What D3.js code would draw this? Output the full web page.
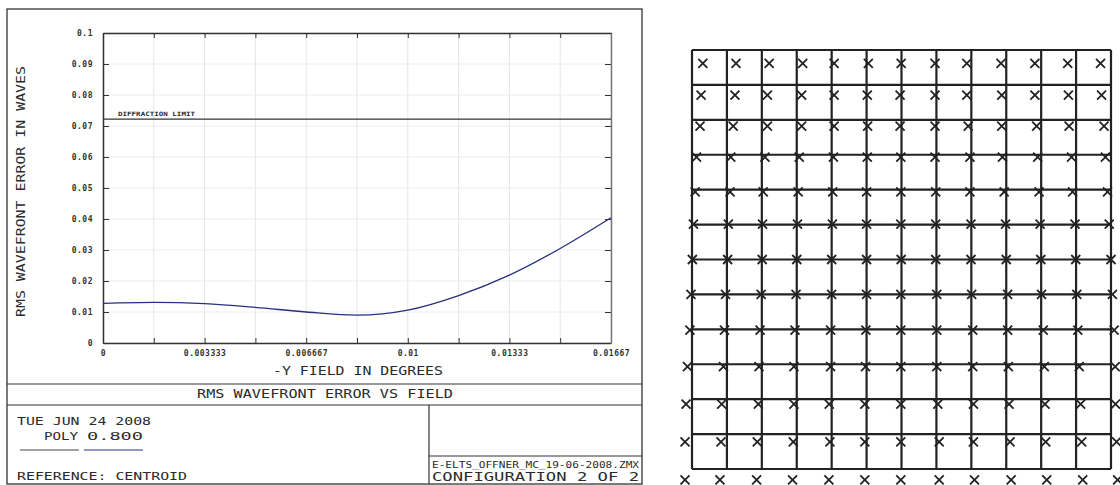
<!DOCTYPE html>
<html>
<head>
<meta charset="utf-8">
<script src="https://cdn.jsdelivr.net/npm/d3@7"></script>
<style>
	body { margin: 0; background: #fff; }
	svg { display: block; }
	text { font-family: 'DejaVu Sans Mono', monospace; fill: #2a2a2a; }
</style>
</head>
<body>
<div id="viz"></div>
<script>
// rms wavefront error vs field
var fieldDeg = [0, 0.0016667, 0.0033333, 0.005, 0.0066667, 0.0083333, 0.01, 0.0116667, 0.0133333, 0.015, 0.0166667];
var rmsWaves = [0.0128, 0.0131, 0.0127, 0.0115, 0.0100, 0.0090, 0.0106, 0.0153, 0.0219, 0.0305, 0.0404];
var diffractionLimit = 0.0722;
var xTicks = [0, 0.0016667, 0.0033333, 0.005, 0.0066667, 0.0083333, 0.01, 0.0116667, 0.0133333, 0.015, 0.0166667];
var xTickLabels = ['0', '', '0.003333', '', '0.006667', '', '0.01', '', '0.01333', '', '0.01667'];
var yTicks = [0, 0.01, 0.02, 0.03, 0.04, 0.05, 0.06, 0.07, 0.08, 0.09, 0.1];
var yTickLabels = ['0', '0.01', '0.02', '0.03', '0.04', '0.05', '0.06', '0.07', '0.08', '0.09', '0.1'];

// distortion grid: grid lines and marker positions (grid units)
var gridLines = [0, 1, 2, 3, 4, 5, 6, 7, 8, 9, 10, 11, 12];
var markerRowY = [0.38, 1.29, 2.18, 3.07, 4.06, 4.99, 6.0, 7.0, 8.02, 9.07, 10.14, 11.22, 12.31];
var markerRowX = [
	[0.31, 1.26, 2.21, 3.17, 4.07, 5.05, 5.99, 6.96, 7.87, 8.85, 9.82, 10.76, 11.70],
	[0.26, 1.23, 2.16, 3.14, 4.07, 5.02, 5.96, 6.96, 7.87, 8.87, 9.82, 10.78, 11.73],
	[0.23, 1.18, 2.16, 3.14, 4.07, 5.03, 5.96, 6.96, 7.91, 8.87, 9.87, 10.80, 11.80],
	[0.13, 1.11, 2.09, 3.07, 4.05, 5.02, 5.98, 6.96, 7.96, 8.89, 9.90, 10.87, 11.84],
	[0.09, 1.09, 2.04, 3.04, 4.03, 5.00, 5.98, 6.98, 7.96, 8.94, 9.94, 10.90, 11.90],
	[0.04, 1.04, 2.02, 3.02, 4.02, 5.00, 5.98, 6.98, 7.99, 8.98, 9.97, 10.97, 11.95],
	[0.01, 1.02, 2.01, 3.00, 4.00, 5.00, 5.99, 6.98, 7.99, 9.00, 9.99, 10.99, 12.00],
	[-0.03, 0.96, 1.98, 2.98, 4.00, 5.00, 5.98, 7.01, 8.01, 9.04, 10.01, 11.02, 12.04],
	[-0.06, 0.93, 1.95, 2.95, 3.97, 4.98, 5.98, 7.01, 8.04, 9.04, 10.06, 11.05, 12.09],
	[-0.13, 0.90, 1.92, 2.92, 3.97, 4.97, 5.98, 7.01, 8.04, 9.06, 10.09, 11.09, 12.12],
	[-0.17, 0.85, 1.90, 2.92, 3.93, 4.95, 5.98, 7.04, 8.06, 9.08, 10.11, 11.13, 12.13],
	[-0.20, 0.83, 1.87, 2.90, 3.95, 4.95, 5.98, 7.08, 8.06, 9.11, 10.13, 11.16, 12.16],
	[-0.20, 0.80, 1.85, 2.88, 3.92, 4.95, 5.98, 7.08, 8.09, 9.14, 10.16, 11.19, 12.19]
];

var w = 1120,
	h = 485;

var svg = d3.select('#viz')
	.append('svg')
	.attr('width', w)
	.attr('height', h);

// ---- left panel ----
var x = d3.scaleLinear().domain([0, 0.0166667]).range([103, 611]);
var y = d3.scaleLinear().domain([0, 0.1]).range([343, 33]);

var left = svg.append('g');

// outer frame and info boxes
left.append('rect')
	.attr('x', 7).attr('y', 9)
	.attr('width', 635).attr('height', 475)
	.style('fill', 'none').style('stroke', '#333').style('stroke-width', 1.3);

var boxLines = [
	[7, 384, 642, 384],
	[7, 405, 642, 405],
	[429, 405, 429, 484],
	[429, 456, 642, 456]
];
left.selectAll('.box-line')
	.data(boxLines)
	.enter().append('line')
	.attr('class', 'box-line')
	.attr('x1', function (d) { return d[0]; })
	.attr('y1', function (d) { return d[1]; })
	.attr('x2', function (d) { return d[2]; })
	.attr('y2', function (d) { return d[3]; })
	.style('stroke', '#333')
	.style('stroke-width', 1.2);

// light grid
left.selectAll('.vgrid')
	.data(xTicks)
	.enter().append('line')
	.attr('class', 'vgrid')
	.attr('x1', x).attr('x2', x)
	.attr('y1', y(0)).attr('y2', y(0.1))
	.style('stroke', '#e6e6e6');

left.selectAll('.hgrid')
	.data(yTicks)
	.enter().append('line')
	.attr('class', 'hgrid')
	.attr('y1', y).attr('y2', y)
	.attr('x1', x(0)).attr('x2', x(0.0166667))
	.style('stroke', '#ececec');

// axes with inward ticks
var axisBottom = d3.axisBottom(x).tickValues(xTicks).tickSizeInner(-5).tickSizeOuter(0)
	.tickFormat(function (d, i) { return xTickLabels[i]; });
var axisTop = d3.axisTop(x).tickValues(xTicks).tickSizeInner(-5).tickSizeOuter(0).tickFormat('');
var axisLeft = d3.axisLeft(y).tickValues(yTicks).tickSizeInner(-6).tickSizeOuter(0)
	.tickFormat(function (d, i) { return yTickLabels[i]; });
var axisRight = d3.axisRight(y).tickValues(yTicks).tickSizeInner(-6).tickSizeOuter(0).tickFormat('');

function styleAxis(g, col) {
	g.select('.domain').style('stroke', col).style('stroke-width', 1.5);
	g.selectAll('.tick line').style('stroke', '#333').style('stroke-width', 1);
	g.selectAll('.tick text')
		.style('font-family', "'DejaVu Sans Mono', monospace")
		.style('font-size', '8px')
		.style('font-weight', 'bold')
		.style('letter-spacing', '0.5px')
		.style('fill', '#333');
}

left.append('g').attr('transform', 'translate(0,' + y(0) + ')').call(axisBottom)
	.call(styleAxis, '#333')
	.selectAll('.tick text').attr('dy', null).attr('y', 13);
left.append('g').attr('transform', 'translate(0,' + y(0.1) + ')').call(axisTop).call(styleAxis, '#333');
left.append('g').attr('transform', 'translate(' + x(0) + ',0)').call(axisLeft)
	.call(styleAxis, '#333')
	.selectAll('.tick text').attr('x', -10);
left.append('g').attr('transform', 'translate(' + x(0.0166667) + ',0)').call(axisRight).call(styleAxis, '#777');

// diffraction limit
left.append('line')
	.attr('x1', x(0)).attr('x2', x(0.0166667))
	.attr('y1', y(diffractionLimit)).attr('y2', y(diffractionLimit))
	.style('stroke', '#333').style('stroke-width', 1.2);

left.append('text')
	.attr('x', 118).attr('y', y(diffractionLimit) - 3)
	.attr('textLength', 77).attr('lengthAdjust', 'spacingAndGlyphs')
	.style('font-size', '6px')
	.style('font-weight', 'bold')
	.text('DIFFRACTION LIMIT');

// the curve
var line = d3.line()
	.x(function (d, i) { return x(fieldDeg[i]); })
	.y(function (d) { return y(d); })
	.curve(d3.curveMonotoneX);

left.append('path')
	.datum(rmsWaves)
	.attr('d', line)
	.style('fill', 'none')
	.style('stroke', '#26307f')
	.style('stroke-width', 1.3);

// labels
function label(txt, px, py, len, size, rot) {
	var t = left.append('text')
		.attr('x', px).attr('y', py)
		.attr('textLength', len).attr('lengthAdjust', 'spacingAndGlyphs')
		.style('font-size', size + 'px')
		.text(txt);
	if (rot) {
		t.attr('transform', 'rotate(-90,' + px + ',' + py + ')');
	}
	return t;
}

label('RMS WAVEFRONT ERROR IN WAVES', 25, 317, 251, 11.5, true);
label('-Y FIELD IN DEGREES', 273, 375, 170, 11.5);
label('RMS WAVEFRONT ERROR VS FIELD', 197, 398, 256, 11.5);
label('TUE JUN 24 2008', 17, 425, 134, 11);
label('POLY', 44, 440, 34, 11);
label('0.800', 87, 440, 56, 11);
label('REFERENCE: CENTROID', 17, 480, 170, 11);
label('E-ELTS_OFFNER_MC_19-06-2008.ZMX', 432, 468, 207, 8.5);
label('CONFIGURATION 2 OF 2', 432, 481, 207, 12);

left.append('line')
	.attr('x1', 20).attr('x2', 79).attr('y1', 450).attr('y2', 450)
	.style('stroke', '#444').style('stroke-width', 1.2);
left.append('line')
	.attr('x1', 84).attr('x2', 143).attr('y1', 450).attr('y2', 450)
	.style('stroke', '#26307f').style('stroke-width', 1.2);

// ---- right panel: distortion grid ----
var gx = d3.scaleLinear().domain([0, 12]).range([692, 1111]);
var gy = d3.scaleLinear().domain([0, 12]).range([50, 469]);

var grid = svg.append('g');

grid.selectAll('.gv')
	.data(gridLines)
	.enter().append('line')
	.attr('class', 'gv')
	.attr('x1', gx).attr('x2', gx)
	.attr('y1', gy(0)).attr('y2', gy(12))
	.style('stroke', '#222').style('stroke-width', 2.2);

grid.selectAll('.gh')
	.data(gridLines)
	.enter().append('line')
	.attr('class', 'gh')
	.attr('y1', gy).attr('y2', gy)
	.attr('x1', gx(0)).attr('x2', gx(12))
	.style('stroke', '#222').style('stroke-width', 2.2);

var markers = [];
markerRowX.forEach(function (row, r) {
	row.forEach(function (v) {
		markers.push({gx: v, gy: markerRowY[r]});
	});
});

var s = 4.5;
grid.selectAll('.mark')
	.data(markers)
	.enter().append('path')
	.attr('class', 'mark')
	.attr('d', function (d) {
		var cx = gx(d.gx), cy = gy(d.gy);
		return 'M' + (cx - s) + ',' + (cy - s) + 'L' + (cx + s) + ',' + (cy + s) +
			'M' + (cx - s) + ',' + (cy + s) + 'L' + (cx + s) + ',' + (cy - s);
	})
	.style('fill', 'none')
	.style('stroke', '#222')
	.style('stroke-width', 1.8);
</script>
</body>
</html>
